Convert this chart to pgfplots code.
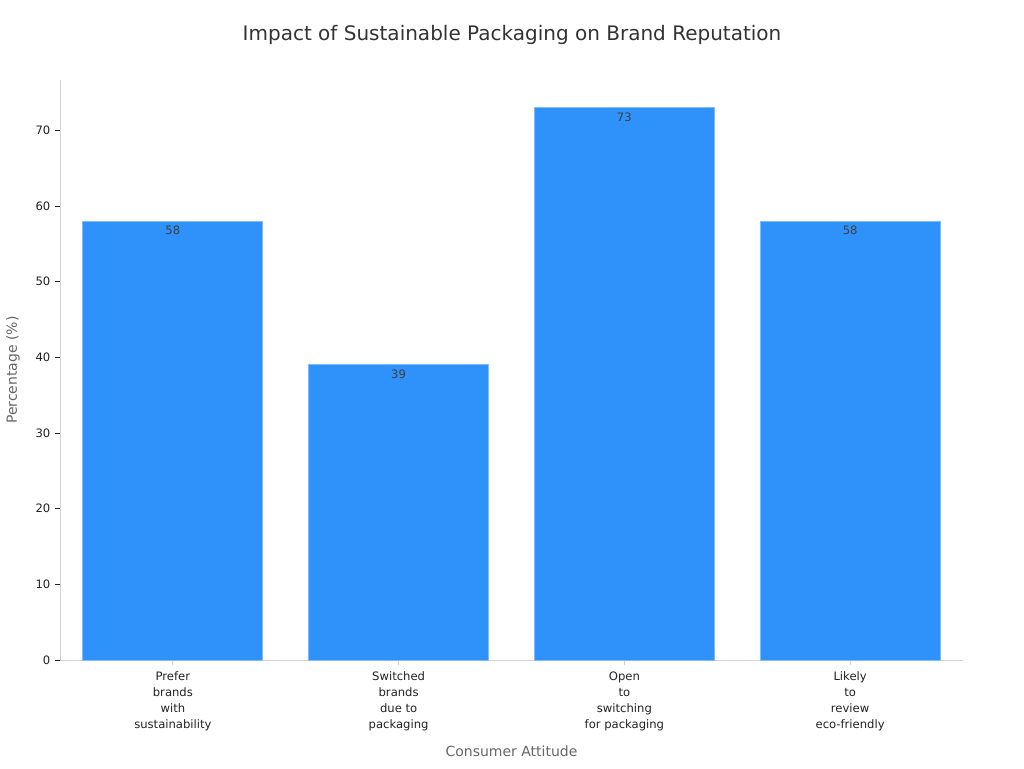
\documentclass[border=0pt]{standalone}
\usepackage{fontspec}
\setmainfont{DejaVu Sans}
\usepackage{pgfplots}
\pgfplotsset{compat=1.18}
\definecolor{barblue}{RGB}{46,146,250}
\definecolor{baredge}{RGB}{125,190,250}
\definecolor{spine}{RGB}{210,210,210}
\definecolor{ticktext}{RGB}{34,34,34}
\definecolor{labeltext}{RGB}{102,102,102}
\begin{document}
\begin{tikzpicture}
\path[use as bounding box] (0,0) rectangle (768pt,576pt);
\node[font=\fontsize{15}{18}\selectfont, text=black!80] at (384pt,550pt) {Impact of Sustainable Packaging on Brand Reputation};
\begin{axis}[
  at={(45pt,81pt)}, anchor=south west,
  scale only axis, width=677.25pt, height=435pt,
  ybar, bar width=135pt,
  ymin=0, ymax=76.65, xmin=-0.5, xmax=3.5,
  axis x line*=bottom, axis y line*=left,
  axis line style={spine, line width=0.7pt},
  tick align=outside,
  major tick length=3.75pt,
  ytick={0,10,20,30,40,50,60,70},
  xtick=data,
  xticklabels={{Prefer\\brands\\with\\sustainability},{Switched\\brands\\due to\\packaging},{Open\\to\\switching\\for packaging},{Likely\\to\\review\\eco-friendly}},
  xticklabel style={align=center, font=\fontsize{8.7}{12}\selectfont, text=ticktext, yshift=-1.5pt},
  yticklabel style={font=\fontsize{8.7}{10}\selectfont, text=ticktext},
  /pgf/number format/assume math mode=true,
  ytick style={ticktext, line width=0.6pt},
  xtick style={spine, line width=0.6pt},
  xlabel={Consumer Attitude},
  ylabel={Percentage (\%)},
  xlabel style={at={(axis description cs:0.5,-0.1569)}, anchor=center, font=\fontsize{10.5}{12}\selectfont, text=labeltext},
  ylabel style={at={(axis description cs:-0.052,0.5)}, anchor=center, font=\fontsize{10.5}{12}\selectfont, text=labeltext},
  nodes near coords,
  every node near coord/.append style={anchor=north, font=\fontsize{8.7}{10}\selectfont, text=black!75, yshift=-0.3pt},
]
\addplot[fill=barblue, draw=baredge, line width=0.6pt] coordinates {(0,58) (1,39) (2,73) (3,58)};
\end{axis}
\end{tikzpicture}
\end{document}
